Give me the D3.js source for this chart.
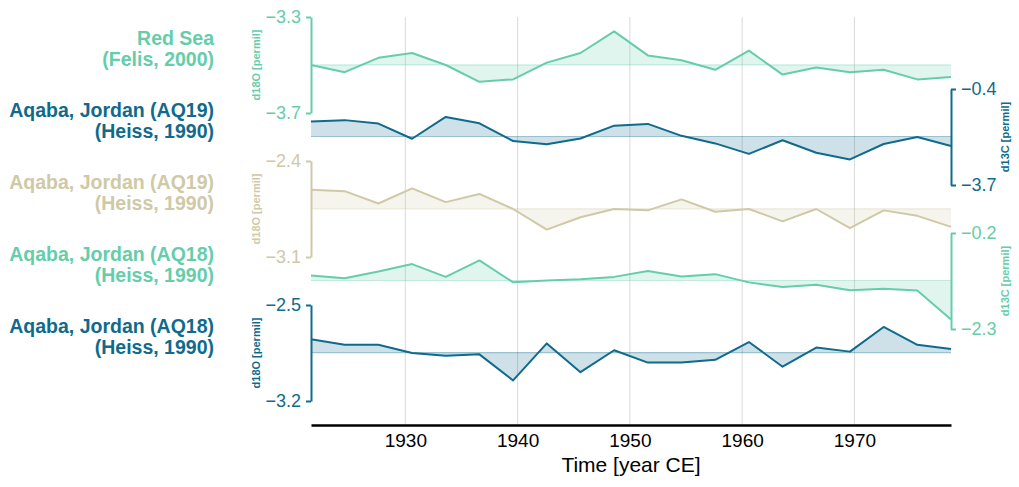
<!DOCTYPE html>
<html>
<head>
<meta charset="utf-8">
<script src="https://cdn.jsdelivr.net/npm/d3@7"></script>
<style>
  html, body { margin: 0; padding: 0; background: #fff; }
  svg { display: block; font-family: "Liberation Sans", Arial, sans-serif; }
</style>
</head>
<body>
<svg id="chart" width="1019" height="487"></svg>
<script>
// ---------------- data ----------------
const years = [1921.6, 1924.6, 1927.6, 1930.6, 1933.6, 1936.6, 1939.6, 1942.6, 1945.6, 1948.6,
               1951.6, 1954.6, 1957.6, 1960.6, 1963.6, 1966.6, 1969.6, 1972.6, 1975.6, 1978.6];
const redSeaD18O = [-3.50, -3.53, -3.47, -3.45, -3.50, -3.57, -3.56, -3.49, -3.45, -3.36,
                    -3.46, -3.48, -3.52, -3.44, -3.54, -3.51, -3.53, -3.52, -3.56, -3.55];
const aq19D13C = [-1.52, -1.47, -1.59, -2.11, -1.36, -1.58, -2.19, -2.30, -2.10, -1.66,
                  -1.60, -2.01, -2.27, -2.63, -2.16, -2.59, -2.82, -2.29, -2.05, -2.36];
const aq19D18O = [-2.61, -2.62, -2.71, -2.60, -2.70, -2.64, -2.75, -2.90, -2.81, -2.75,
                  -2.76, -2.68, -2.77, -2.75, -2.84, -2.75, -2.89, -2.76, -2.80, -2.88];
const aq18D13C = [-1.13, -1.19, -1.04, -0.88, -1.16, -0.80, -1.28, -1.24, -1.21, -1.16,
                  -1.03, -1.15, -1.10, -1.28, -1.38, -1.33, -1.45, -1.42, -1.46, -2.09];
const aq18D18O = [-2.75, -2.79, -2.79, -2.85, -2.87, -2.86, -3.05, -2.78, -2.99, -2.83,
                  -2.92, -2.92, -2.90, -2.77, -2.95, -2.81, -2.84, -2.66, -2.79, -2.82];

const seriesValues = [redSeaD18O, aq19D13C, aq19D18O, aq18D13C, aq18D18O];
const siteNames = ["Red Sea", "Aqaba, Jordan (AQ19)", "Aqaba, Jordan (AQ19)", "Aqaba, Jordan (AQ18)", "Aqaba, Jordan (AQ18)"];
const references = ["(Felis, 2000)", "(Heiss, 1990)", "(Heiss, 1990)", "(Heiss, 1990)", "(Heiss, 1990)"];
const yAxisTitles = ["d18O [permil]", "d13C [permil]", "d18O [permil]", "d13C [permil]", "d18O [permil]"];
const yTickValues = [[-3.3, -3.7], [-0.4, -3.7], [-2.4, -3.1], [-0.2, -2.3], [-2.5, -3.2]];
const yTickLabels = [["\u22123.3", "\u22123.7"], ["\u22120.4", "\u22123.7"], ["\u22122.4", "\u22123.1"], ["\u22120.2", "\u22122.3"], ["\u22122.5", "\u22123.2"]];
const axisSides = ["left", "right", "left", "right", "left"];
const xTickValues = [1930, 1940, 1950, 1960, 1970];
const xTickLabels = ["1930", "1940", "1950", "1960", "1970"];
const xAxisTitle = "Time [year CE]";

// ---------------- styles / layout ----------------
const colors = ["#66cdaa", "#0f6a8b", "#cfc9a6", "#66cdaa", "#0f6a8b"];
const L = 311, R = 951;
const panelTop0 = 17, panelStep = 72, panelH = 96;
const xAxisY = 425;

const svg = d3.select("#chart");
const x = d3.scaleLinear().domain([d3.min(years), d3.max(years)]).range([L, R]);

// grid
svg.append("g").selectAll("line").data(xTickValues).join("line")
  .attr("x1", d => x(d)).attr("x2", d => x(d))
  .attr("y1", panelTop0).attr("y2", xAxisY)
  .attr("stroke", "#d9d9d9").attr("stroke-width", 1);

seriesValues.forEach((vals, i) => {
  const top = panelTop0 + panelStep * i;
  const ticks = yTickValues[i];
  const y = d3.scaleLinear()
    .domain([d3.min(ticks), d3.max(ticks)])
    .range([top + panelH, top]);
  const col = colors[i];
  const mean = d3.mean(vals);
  const pts = years.map((yr, k) => ({ yr, v: vals[k] }));
  const g = svg.append("g");

  g.append("path").datum(pts)
    .attr("d", d3.area().x(d => x(d.yr)).y0(y(mean)).y1(d => y(d.v)))
    .attr("fill", col).attr("fill-opacity", 0.2).attr("stroke", "none");
  g.append("line")
    .attr("x1", L).attr("x2", R).attr("y1", y(mean)).attr("y2", y(mean))
    .attr("stroke", col).attr("stroke-opacity", 0.35).attr("stroke-width", 1.2);
  g.append("path").datum(pts)
    .attr("d", d3.line().x(d => x(d.yr)).y(d => y(d.v)))
    .attr("fill", "none").attr("stroke", col).attr("stroke-width", 2)
    .attr("stroke-linejoin", "round");

  const side = axisSides[i];
  const axis = (side === "left" ? d3.axisLeft(y) : d3.axisRight(y))
    .tickValues(ticks)
    .tickFormat((d, k) => yTickLabels[i][k])
    .tickSize(5).tickSizeOuter(0).tickPadding(5);
  const ag = svg.append("g")
    .attr("transform", `translate(${side === "left" ? L : R},0)`)
    .call(axis);
  ag.select(".domain").attr("stroke", col).attr("stroke-width", 2);
  ag.selectAll(".tick line").attr("stroke", col).attr("stroke-width", 2);
  ag.selectAll(".tick text").attr("fill", col)
    .style("font-size", "18px").style("font-family", "'Liberation Sans', Arial, sans-serif");

  const cy = top + panelH / 2;
  const lx = side === "left" ? 256 : 1005;
  svg.append("text")
    .attr("transform", `translate(${lx},${cy}) rotate(-90)`)
    .attr("text-anchor", "middle").attr("dy", "0.35em")
    .attr("fill", col).style("font-size", "11px").style("font-weight", "bold")
    .text(yAxisTitles[i]);

  const lab = svg.append("text")
    .attr("text-anchor", "end").attr("fill", col)
    .style("font-size", "19.5px").style("font-weight", "bold");
  lab.append("tspan").attr("x", 214).attr("y", cy - 20.5).text(siteNames[i]);
  lab.append("tspan").attr("x", 214).attr("y", cy + 0.5).text(references[i]);
});

// x axis
const xa = svg.append("g").attr("transform", `translate(0,${xAxisY})`)
  .call(d3.axisBottom(x).tickValues(xTickValues)
    .tickFormat((d, k) => xTickLabels[k]).tickSize(0).tickSizeOuter(0).tickPadding(9));
xa.select(".domain").attr("stroke", "#000").attr("stroke-width", 2.5);
xa.selectAll(".tick text").attr("fill", "#000")
  .style("font-size", "19px").style("font-family", "'Liberation Sans', Arial, sans-serif");

svg.append("text").attr("x", (L + R) / 2).attr("y", 472)
  .attr("text-anchor", "middle").attr("fill", "#000").style("font-size", "21px")
  .text(xAxisTitle);
</script>
</body>
</html>
